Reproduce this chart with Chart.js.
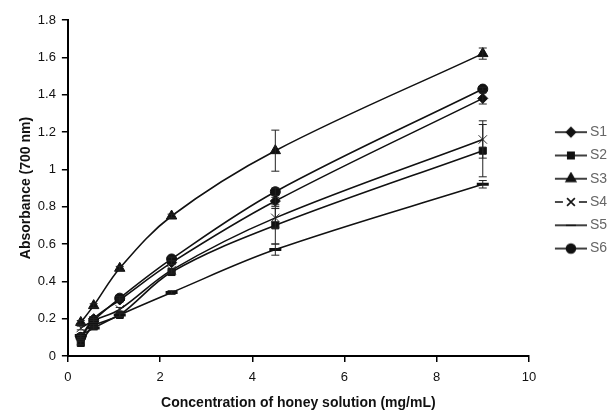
<!DOCTYPE html>
<html>
<head>
<meta charset="utf-8">
<script src="https://cdn.jsdelivr.net/npm/chart.js@4.4.1/dist/chart.umd.min.js"></script>
<style>
  html, body { margin: 0; padding: 0; background: #fff; }
  #wrap { width: 611px; height: 414px; }
</style>
</head>
<body>
<div id="wrap"><canvas id="chart" width="611" height="414"></canvas></div>
<script>
// concentrations (mg/mL)
const concentrations = [0.28, 0.56, 1.125, 2.25, 4.5, 9];

const seriesNames = ['S1', 'S2', 'S3', 'S4', 'S5', 'S6'];

// absorbance
const s1 = [0.10, 0.20, 0.30, 0.50, 0.83, 1.38];
const s2 = [0.07, 0.16, 0.22, 0.45, 0.70, 1.10];
const s3 = [0.18, 0.27, 0.47, 0.75, 1.10, 1.62];
const s4 = [0.15, 0.19, 0.25, 0.46, 0.74, 1.16];
const s5 = [0.11, 0.15, 0.22, 0.34, 0.57, 0.92];
const s6 = [0.10, 0.19, 0.31, 0.52, 0.88, 1.43];

// error bars (+/-)
const s1Err = [0.01, 0.01, 0.01, 0.01, 0.02, 0.03];
const s2Err = [0.01, 0.01, 0.01, 0.01, 0.10, 0.14];
const s3Err = [0.01, 0.01, 0.01, 0.01, 0.11, 0.03];
const s4Err = [0.01, 0.01, 0.01, 0.01, 0.05, 0.10];
const s5Err = [0.01, 0.01, 0.01, 0.01, 0.03, 0.02];
const s6Err = [0.01, 0.01, 0.01, 0.01, 0.02, 0.01];

const xTicks = [0, 2, 4, 6, 8, 10];
const yTicks = [0, 0.2, 0.4, 0.6, 0.8, 1, 1.2, 1.4, 1.6, 1.8];

const INK = '#111';

// marker look per series
const markers = [
    { style: 'rectRot', radius: 5, width: 1 },
    { style: 'rect', radius: 5, width: 1 },
    { style: 'triangle', radius: 6, width: 1 },
    { style: 'crossRot', radius: 6, width: 1 },
    { style: 'line', radius: 6, width: 3 },
    { style: 'circle', radius: 5, width: 1 }
];

const values = [s1, s2, s3, s4, s5, s6];
const errors = [s1Err, s2Err, s3Err, s4Err, s5Err, s6Err];

// legend symbol: blank margin on the left, then a line with the marker in the middle
const SYM_BLANK = 28;
const SYM_LINE = 32;
function legendSymbol(m) {
    const c = document.createElement('canvas');
    c.width = SYM_BLANK + SYM_LINE;
    c.height = 14;
    const g = c.getContext('2d');
    const mid = SYM_BLANK + SYM_LINE / 2;
    g.strokeStyle = INK;
    g.lineWidth = 1.6;
    g.beginPath();
    if (m.style === 'crossRot') {
        g.moveTo(SYM_BLANK, 7); g.lineTo(mid - 8, 7);
        g.moveTo(mid + 8, 7); g.lineTo(SYM_BLANK + SYM_LINE, 7);
    } else {
        g.moveTo(SYM_BLANK, 7); g.lineTo(SYM_BLANK + SYM_LINE, 7);
    }
    g.stroke();
    g.fillStyle = INK;
    Chart.helpers.drawPoint(g, {
        pointStyle: m.style,
        radius: m.style === 'line' ? 5 : m.radius - 0.5,
        borderWidth: m.width,
        rotation: 0
    }, mid, 7);
    return c;
}

const errorBars = {
    id: 'errorBars',
    afterDatasetsDraw(chart) {
        const ctx = chart.ctx;
        const xs = chart.scales.x;
        const ys = chart.scales.y;
        ctx.save();
        ctx.strokeStyle = '#222';
        ctx.lineWidth = 1;
        chart.data.datasets.forEach((ds, i) => {
            const err = errors[i];
            ds.data.forEach((p, j) => {
                if (!err[j]) return;
                const x = xs.getPixelForValue(p.x);
                const yTop = ys.getPixelForValue(p.y + err[j]);
                const yBot = ys.getPixelForValue(p.y - err[j]);
                ctx.beginPath();
                ctx.moveTo(x, yTop); ctx.lineTo(x, yBot);
                ctx.moveTo(x - 4, yTop); ctx.lineTo(x + 4, yTop);
                ctx.moveTo(x - 4, yBot); ctx.lineTo(x + 4, yBot);
                ctx.stroke();
            });
        });
        ctx.restore();
    }
};

const datasets = seriesNames.map((name, i) => ({
    label: name,
    data: concentrations.map((c, j) => ({ x: c, y: values[i][j] })),
    borderColor: INK,
    backgroundColor: INK,
    borderWidth: 1.6,
    tension: 0.35,
    pointStyle: markers[i].style,
    pointRadius: markers[i].radius,
    pointBorderWidth: markers[i].width,
    pointBackgroundColor: INK,
    pointBorderColor: markers[i].style === 'crossRot' ? '#333' : INK,
    fill: false
}));

const symbols = markers.map(legendSymbol);

const FONT = 'Liberation Sans, Arial, sans-serif';
const tickFont = { family: FONT, size: 13 };
const titleFont = { family: FONT, size: 14, weight: 'bold' };

new Chart(document.getElementById('chart').getContext('2d'), {
    type: 'line',
    data: { datasets: datasets },
    plugins: [errorBars],
    options: {
        responsive: false,
        animation: false,
        layout: { padding: { top: 20, right: -6, left: 18, bottom: 2 } },
        plugins: {
            tooltip: { enabled: false },
            legend: {
                position: 'right',
                align: 'center',
                fullSize: false,
                // blank title only nudges the entries down a little
                title: { display: true, text: ' ', font: { size: 10, lineHeight: 1 }, padding: 1 },
                labels: {
                    usePointStyle: true,
                    pointStyleWidth: 52,
                    padding: 2,
                    color: '#111',
                    font: { family: FONT, size: 14, lineHeight: 1.52 },
                    generateLabels: (chart) => chart.data.datasets.map((ds, i) => ({
                        text: [ds.label],
                        pointStyle: symbols[i],
                        fillStyle: INK,
                        strokeStyle: INK,
                        lineWidth: 0,
                        hidden: false,
                        datasetIndex: i
                    }))
                }
            }
        },
        scales: {
            x: {
                type: 'linear',
                min: 0,
                max: 10,
                afterBuildTicks: (axis) => { axis.ticks = xTicks.map(v => ({ value: v })); },
                border: { color: '#000', width: 2 },
                grid: { drawOnChartArea: false, drawTicks: true, tickLength: 6, color: '#000', lineWidth: 1.5 },
                ticks: { color: '#111', font: tickFont, padding: 8, maxRotation: 0 },
                title: {
                    display: true,
                    text: 'Concentration of honey solution (mg/mL)',
                    color: '#111',
                    font: titleFont,
                    padding: { top: 1.6, bottom: 0 }
                }
            },
            y: {
                min: 0,
                max: 1.8,
                afterBuildTicks: (axis) => { axis.ticks = yTicks.map(v => ({ value: v })); },
                border: { color: '#000', width: 2 },
                grid: { drawOnChartArea: false, drawTicks: true, tickLength: 6, color: '#000', lineWidth: 1.5 },
                ticks: {
                    color: '#111',
                    font: tickFont,
                    padding: 6,
                    callback: (v) => String(Math.round(v * 10) / 10)
                },
                title: {
                    display: true,
                    text: 'Absorbance (700 nm)',
                    color: '#111',
                    font: titleFont,
                    padding: { top: 0, bottom: -3 }
                }
            }
        }
    }
});
</script>
</body>
</html>
